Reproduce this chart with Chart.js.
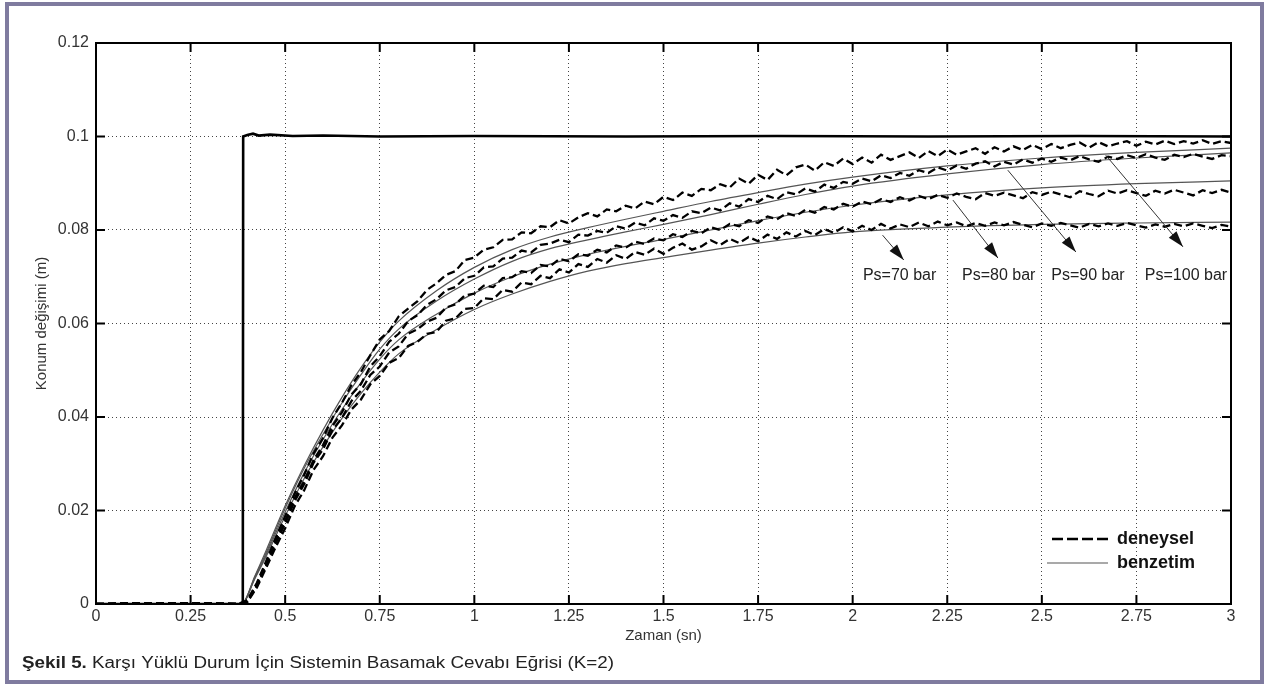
<!DOCTYPE html>
<html lang="tr">
<head>
<meta charset="UTF-8">
<title>Şekil 5 - Basamak Cevabı</title>
<script src="https://cdn.jsdelivr.net/npm/chart.js@4.4.1/dist/chart.umd.min.js"></script>
<style>
    body { margin: 0; background: #fff; }
    .frame { position: absolute; left: 5px; top: 2px; width: 1251px; height: 674px; border: 4px solid #7f7b9f; }
    .chart-box { position: absolute; left: 0; top: 0; width: 1264px; height: 691px; }
</style>
</head>
<body>
<div class="frame"></div>
<div class="chart-box"><canvas id="stepChart" width="1264" height="691"></canvas></div>
<script>
// axis ticks
const xTicks = [0, 0.25, 0.5, 0.75, 1, 1.25, 1.5, 1.75, 2, 2.25, 2.5, 2.75, 3];
const xTickLabels = ['0', '0.25', '0.5', '0.75', '1', '1.25', '1.5', '1.75', '2', '2.25', '2.5', '2.75', '3'];
const yTicks = [0, 0.02, 0.04, 0.06, 0.08, 0.1, 0.12];
const yTickLabels = ['0', '0.02', '0.04', '0.06', '0.08', '0.1', '0.12'];

// reference step input
const tStep = [0, 0.388, 0.389, 0.40, 0.415, 0.43, 0.46, 0.52, 0.6, 0.75, 1.0, 1.4, 1.8, 2.2, 2.6, 3.0];
const vStep = [0, 0, 0.1, 0.1003, 0.1006, 0.1002, 0.1004, 0.1001, 0.1002, 0.1000, 0.1001, 0.1000, 0.1001, 0.1000, 0.1001, 0.1000];

// benzetim (simulation) curves
const tSim = [0, 0.385, 0.42, 0.45, 0.5, 0.55, 0.6, 0.65, 0.7, 0.75, 0.8, 0.9, 1.0, 1.1, 1.2, 1.3, 1.4, 1.5, 1.625, 1.75, 1.875, 2.0, 2.25, 2.5, 2.75, 3.0];
const sim100 = [0, 0, 0.0060, 0.0115, 0.0210, 0.0295, 0.0372, 0.0442, 0.0505, 0.0560, 0.0605, 0.0670, 0.0720, 0.0758, 0.0785, 0.0805, 0.0823, 0.0840, 0.0861, 0.0880, 0.0898, 0.0913, 0.0937, 0.0954, 0.0966, 0.0975];
const sim90 = [0, 0, 0.0058, 0.0110, 0.0205, 0.0290, 0.0363, 0.0430, 0.0490, 0.0545, 0.0588, 0.0648, 0.0695, 0.0733, 0.0760, 0.0779, 0.0796, 0.0812, 0.0833, 0.0855, 0.0876, 0.0894, 0.0920, 0.0940, 0.0954, 0.0965];
const sim80 = [0, 0, 0.0056, 0.0106, 0.0197, 0.0280, 0.0352, 0.0416, 0.0473, 0.0524, 0.0565, 0.0620, 0.0665, 0.0700, 0.0727, 0.0748, 0.0765, 0.0780, 0.0800, 0.0820, 0.0838, 0.0853, 0.0875, 0.0890, 0.0899, 0.0905];
const sim70 = [0, 0, 0.0054, 0.0102, 0.0188, 0.0268, 0.0336, 0.0397, 0.0450, 0.0496, 0.0535, 0.0587, 0.0630, 0.0663, 0.0690, 0.0712, 0.0728, 0.0741, 0.0757, 0.0772, 0.0785, 0.0796, 0.0806, 0.0812, 0.0815, 0.0817];

// deneysel (measured) curves
const tExp = [0, 0.1, 0.2, 0.3,
    0.375, 0.4, 0.425, 0.45, 0.475, 0.5, 0.525, 0.55, 0.575, 0.6,
    0.625, 0.65, 0.675, 0.7, 0.725, 0.75, 0.775, 0.8, 0.825, 0.85,
    0.875, 0.9, 0.925, 0.95, 0.975, 1.0, 1.025, 1.05, 1.075, 1.1,
    1.125, 1.15, 1.175, 1.2, 1.225, 1.25, 1.275, 1.3, 1.325, 1.35,
    1.375, 1.4, 1.425, 1.45, 1.475, 1.5, 1.525, 1.55, 1.575, 1.6,
    1.625, 1.65, 1.675, 1.7, 1.725, 1.75, 1.775, 1.8, 1.825, 1.85,
    1.875, 1.9, 1.925, 1.95, 1.975, 2.0, 2.025, 2.05, 2.075, 2.1,
    2.125, 2.15, 2.175, 2.2, 2.225, 2.25, 2.275, 2.3, 2.325, 2.35,
    2.375, 2.4, 2.425, 2.45, 2.475, 2.5, 2.525, 2.55, 2.575, 2.6,
    2.625, 2.65, 2.675, 2.7, 2.725, 2.75, 2.775, 2.8, 2.825, 2.85,
    2.875, 2.9, 2.925, 2.95, 2.975, 3.0];
const exp100 = [0, 0.0002, 0, 0.0002,
    0, 0.0008, 0.0045, 0.0092, 0.0141, 0.0188, 0.0236, 0.0276, 0.0322, 0.0355,
    0.0398, 0.0430, 0.0468, 0.0496, 0.0532, 0.0566, 0.0584, 0.0615, 0.0632, 0.0648,
    0.0672, 0.0686, 0.0704, 0.0712, 0.0736, 0.0741, 0.0758, 0.0763, 0.0779, 0.0780,
    0.0795, 0.0793, 0.0808, 0.0806, 0.0821, 0.0814, 0.0827, 0.0836, 0.0829, 0.0844,
    0.0840, 0.0852, 0.0846, 0.0861, 0.0855, 0.0871, 0.0864, 0.0880, 0.0873, 0.0888,
    0.0885, 0.0898, 0.0891, 0.0910, 0.0899, 0.0918, 0.0907, 0.0929, 0.0917, 0.0934,
    0.0940, 0.0927, 0.0945, 0.0937, 0.0953, 0.0941, 0.0955, 0.0944, 0.0961, 0.0950,
    0.0958, 0.0966, 0.0954, 0.0969, 0.0958, 0.0972, 0.0961, 0.0968, 0.0975, 0.0963,
    0.0977, 0.0968, 0.0979, 0.0971, 0.0982, 0.0973, 0.0984, 0.0975, 0.0982, 0.0987,
    0.0976, 0.0988, 0.0979, 0.0985, 0.0990, 0.0980, 0.0989, 0.0983, 0.0991, 0.0984,
    0.0990, 0.0985, 0.0992, 0.0984, 0.0990, 0.0986];
const exp90 = [0, 0, 0.0002, 0,
    0, 0.0006, 0.0040, 0.0085, 0.0134, 0.0178, 0.0226, 0.0262, 0.0308, 0.0340,
    0.0381, 0.0410, 0.0448, 0.0470, 0.0508, 0.0530, 0.0561, 0.0578, 0.0605, 0.0618,
    0.0640, 0.0652, 0.0671, 0.0678, 0.0697, 0.0702, 0.0720, 0.0722, 0.0739, 0.0741,
    0.0756, 0.0752, 0.0768, 0.0771, 0.0779, 0.0774, 0.0790, 0.0788, 0.0798, 0.0794,
    0.0808, 0.0803, 0.0816, 0.0810, 0.0825, 0.0820, 0.0832, 0.0826, 0.0840, 0.0836,
    0.0848, 0.0842, 0.0857, 0.0850, 0.0866, 0.0860, 0.0873, 0.0866, 0.0881, 0.0876,
    0.0889, 0.0882, 0.0897, 0.0890, 0.0903, 0.0899, 0.0910, 0.0904, 0.0917, 0.0911,
    0.0922, 0.0916, 0.0928, 0.0922, 0.0934, 0.0927, 0.0938, 0.0931, 0.0942, 0.0947,
    0.0936, 0.0946, 0.0940, 0.0951, 0.0944, 0.0953, 0.0946, 0.0955, 0.0949, 0.0958,
    0.0951, 0.0946, 0.0957, 0.0952, 0.0960, 0.0954, 0.0962, 0.0955, 0.0950, 0.0961,
    0.0956, 0.0963, 0.0957, 0.0952, 0.0960, 0.0958];
const exp80 = [0, 0.0002, 0, 0.0001,
    0, 0.0005, 0.0038, 0.0083, 0.0130, 0.0172, 0.0220, 0.0256, 0.0302, 0.0331,
    0.0372, 0.0398, 0.0434, 0.0456, 0.0490, 0.0508, 0.0538, 0.0551, 0.0578, 0.0588,
    0.0604, 0.0612, 0.0634, 0.0641, 0.0660, 0.0664, 0.0681, 0.0678, 0.0697, 0.0699,
    0.0712, 0.0708, 0.0725, 0.0722, 0.0738, 0.0733, 0.0748, 0.0745, 0.0758, 0.0752,
    0.0767, 0.0762, 0.0775, 0.0770, 0.0782, 0.0778, 0.0791, 0.0785, 0.0798, 0.0793,
    0.0806, 0.0800, 0.0813, 0.0808, 0.0821, 0.0815, 0.0829, 0.0823, 0.0836, 0.0830,
    0.0843, 0.0837, 0.0849, 0.0844, 0.0856, 0.0850, 0.0861, 0.0855, 0.0866, 0.0860,
    0.0870, 0.0863, 0.0873, 0.0866, 0.0875, 0.0869, 0.0878, 0.0871, 0.0866, 0.0879,
    0.0873, 0.0880, 0.0874, 0.0868, 0.0881, 0.0875, 0.0882, 0.0876, 0.0870, 0.0883,
    0.0877, 0.0872, 0.0884, 0.0878, 0.0885, 0.0879, 0.0873, 0.0884, 0.0878, 0.0886,
    0.0880, 0.0874, 0.0885, 0.0879, 0.0886, 0.0880];
const exp70 = [0, 0, 0.0002, 0.0002,
    0, 0.0004, 0.0035, 0.0078, 0.0122, 0.0162, 0.0209, 0.0243, 0.0287, 0.0316,
    0.0356, 0.0382, 0.0416, 0.0437, 0.0470, 0.0488, 0.0516, 0.0526, 0.0552, 0.0561,
    0.0578, 0.0582, 0.0606, 0.0611, 0.0631, 0.0633, 0.0654, 0.0652, 0.0672, 0.0668,
    0.0688, 0.0684, 0.0702, 0.0697, 0.0716, 0.0709, 0.0727, 0.0721, 0.0738, 0.0730,
    0.0746, 0.0738, 0.0753, 0.0747, 0.0760, 0.0749, 0.0762, 0.0771, 0.0758, 0.0765,
    0.0778, 0.0768, 0.0781, 0.0772, 0.0785, 0.0776, 0.0790, 0.0781, 0.0795, 0.0786,
    0.0798, 0.0789, 0.0802, 0.0794, 0.0806, 0.0797, 0.0809, 0.0800, 0.0813, 0.0803,
    0.0812, 0.0806, 0.0816, 0.0808, 0.0818, 0.0810, 0.0816, 0.0808, 0.0815, 0.0809,
    0.0816, 0.0810, 0.0817, 0.0811, 0.0806, 0.0814, 0.0809, 0.0815, 0.0810, 0.0805,
    0.0813, 0.0808, 0.0814, 0.0809, 0.0815, 0.0810, 0.0805, 0.0812, 0.0807, 0.0813,
    0.0808, 0.0814, 0.0809, 0.0804, 0.0811, 0.0807];

// Ps labels and arrows (data coordinates)
const psLabels = ['Ps=70 bar', 'Ps=80 bar', 'Ps=90 bar', 'Ps=100 bar'];
const psLabelT = [2.124, 2.386, 2.622, 2.881];
const psLabelV = [0.0703, 0.0703, 0.0703, 0.0703];
const arrowFromT = [2.079, 2.265, 2.41, 2.669];
const arrowFromV = [0.0789, 0.0864, 0.0928, 0.0960];
const arrowToT = [2.135, 2.384, 2.59, 2.873];
const arrowToV = [0.0736, 0.0740, 0.0753, 0.0764];

const legendLabels = ['deneysel', 'benzetim'];
const captionBold = 'Şekil 5.';
const captionRest = ' Karşı Yüklü Durum İçin Sistemin Basamak Cevabı Eğrisi (K=2)';

const FONT = '"Liberation Sans", Arial, sans-serif';
Chart.defaults.font.family = FONT;

function pts(ts, vs) {
    return ts.map((t, i) => ({ x: t, y: vs[i] }));
}

function expSet(vs) {
    return {
        data: pts(tExp, vs), borderColor: '#000', borderWidth: 2.3,
        borderDash: [8, 4], pointRadius: 0, tension: 0, fill: false
    };
}
function simSet(vs) {
    return {
        data: pts(tSim, vs), borderColor: '#555', borderWidth: 1.2,
        pointRadius: 0, cubicInterpolationMode: 'monotone', fill: false
    };
}

const overlay = {
    id: 'overlay',
    afterDatasetsDraw(chart) {
        const { ctx, chartArea: a, scales: { x, y } } = chart;
        ctx.save();

        // box and inward ticks
        ctx.strokeStyle = '#000';
        ctx.lineWidth = 2;
        ctx.strokeRect(a.left, a.top, a.right - a.left, a.bottom - a.top);
        ctx.beginPath();
        xTicks.forEach(v => {
            const px = x.getPixelForValue(v);
            ctx.moveTo(px, a.bottom); ctx.lineTo(px, a.bottom - 9);
            ctx.moveTo(px, a.top); ctx.lineTo(px, a.top + 9);
        });
        yTicks.forEach(v => {
            const py = y.getPixelForValue(v);
            ctx.moveTo(a.left, py); ctx.lineTo(a.left + 9, py);
            ctx.moveTo(a.right, py); ctx.lineTo(a.right - 9, py);
        });
        ctx.stroke();

        // arrows to Ps labels
        ctx.strokeStyle = '#333';
        ctx.fillStyle = '#111';
        ctx.lineWidth = 1;
        arrowFromT.forEach((t, i) => {
            const x0 = x.getPixelForValue(t), y0 = y.getPixelForValue(arrowFromV[i]);
            const x1 = x.getPixelForValue(arrowToT[i]), y1 = y.getPixelForValue(arrowToV[i]);
            const ang = Math.atan2(y1 - y0, x1 - x0);
            ctx.beginPath(); ctx.moveTo(x0, y0); ctx.lineTo(x1, y1); ctx.stroke();
            ctx.beginPath();
            ctx.moveTo(x1, y1);
            ctx.lineTo(x1 - 16 * Math.cos(ang) + 5 * Math.sin(ang), y1 - 16 * Math.sin(ang) - 5 * Math.cos(ang));
            ctx.lineTo(x1 - 16 * Math.cos(ang) - 5 * Math.sin(ang), y1 - 16 * Math.sin(ang) + 5 * Math.cos(ang));
            ctx.closePath(); ctx.fill();
        });

        ctx.fillStyle = '#222';
        ctx.font = '16px ' + FONT;
        ctx.textAlign = 'center';
        ctx.textBaseline = 'middle';
        psLabels.forEach((s, i) => {
            ctx.fillText(s, x.getPixelForValue(psLabelT[i]), y.getPixelForValue(psLabelV[i]));
        });

        // legend
        const ly1 = a.bottom - 65, ly2 = a.bottom - 41;
        ctx.strokeStyle = '#000';
        ctx.lineWidth = 2.5;
        ctx.setLineDash([11, 4]);
        ctx.beginPath(); ctx.moveTo(a.right - 179, ly1); ctx.lineTo(a.right - 123, ly1); ctx.stroke();
        ctx.setLineDash([]);
        ctx.strokeStyle = '#555';
        ctx.lineWidth = 1.2;
        ctx.beginPath(); ctx.moveTo(a.right - 184, ly2); ctx.lineTo(a.right - 123, ly2); ctx.stroke();
        ctx.fillStyle = '#111';
        ctx.font = 'bold 18px ' + FONT;
        ctx.textAlign = 'left';
        ctx.fillText(legendLabels[0], a.right - 114, ly1);
        ctx.fillText(legendLabels[1], a.right - 114, ly2);

        // caption
        ctx.font = 'bold 16px ' + FONT;
        const w1 = ctx.measureText(captionBold).width;
        ctx.font = '16px ' + FONT;
        const w2 = ctx.measureText(captionRest).width;
        const k = 592 / (w1 + w2);
        ctx.translate(22, 664);
        ctx.scale(k, 1);
        ctx.fillStyle = '#222';
        ctx.font = 'bold 16px ' + FONT;
        ctx.fillText(captionBold, 0, 0);
        ctx.font = '16px ' + FONT;
        ctx.fillText(captionRest, w1, 0);

        ctx.restore();
    }
};

new Chart(document.getElementById('stepChart'), {
    type: 'line',
    data: {
        datasets: [
            expSet(exp100), expSet(exp90), expSet(exp80), expSet(exp70),
            simSet(sim100), simSet(sim90), simSet(sim80), simSet(sim70),
            { data: pts(tStep, vStep), borderColor: '#000', borderWidth: 2.6, pointRadius: 0, tension: 0, fill: false }
        ]
    },
    options: {
        responsive: false,
        animation: false,
        layout: { padding: { left: 33, top: 43, right: 33, bottom: 46 } },
        plugins: { legend: { display: false }, tooltip: { enabled: false } },
        scales: {
            x: {
                type: 'linear', min: 0, max: 3,
                afterFit: s => { s.height = 41; },
                afterBuildTicks: s => { s.ticks = xTicks.map(v => ({ value: v })); },
                ticks: { padding: 3, color: '#333', font: { size: 16 }, maxRotation: 0,
                    callback: (v, i) => xTickLabels[i] },
                grid: { color: '#444', lineWidth: 1, drawTicks: false },
                border: { display: false, dash: [1, 3] },
                title: { display: true, text: 'Zaman (sn)', color: '#333', font: { size: 15 }, padding: 0 }
            },
            y: {
                type: 'linear', min: 0, max: 0.12,
                afterFit: s => { s.width = 63; },
                afterBuildTicks: s => { s.ticks = yTicks.map(v => ({ value: v })); },
                ticks: { padding: 7, color: '#333', font: { size: 16 },
                    callback: (v, i) => yTickLabels[i] },
                grid: { color: '#444', lineWidth: 1, drawTicks: false },
                border: { display: false, dash: [1, 3] },
                title: { display: true, text: 'Konum değişimi (m)', color: '#333', font: { size: 15 }, padding: 0 }
            }
        }
    },
    plugins: [overlay]
});
</script>
</body>
</html>
